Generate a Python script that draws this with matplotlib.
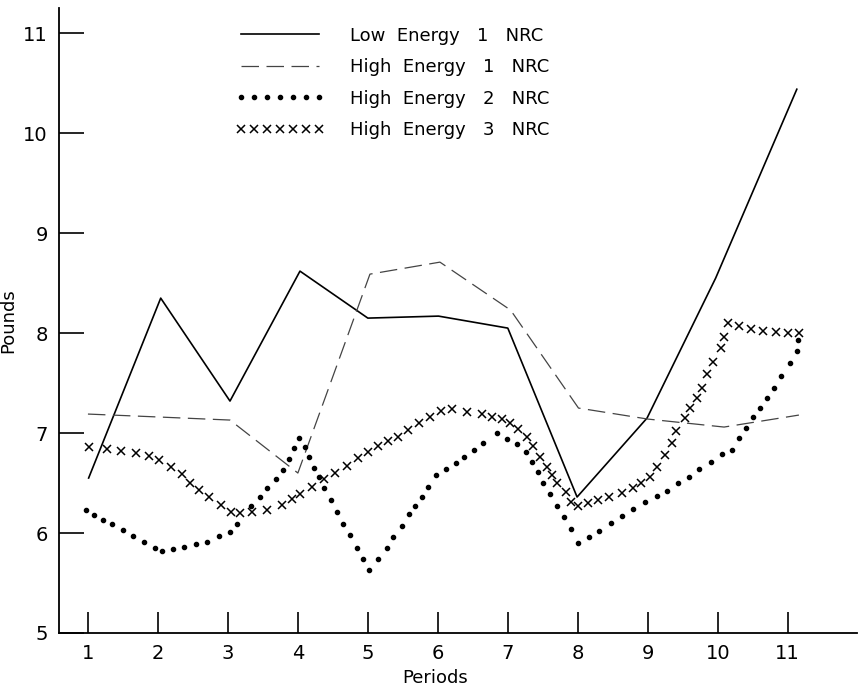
import matplotlib
matplotlib.use("Agg")
import matplotlib.pyplot as plt

plt.rcParams['font.family'] = ['DejaVu Sans']

# Low Energy 1 NRC (heltrukken linje)
low1_x = [1.01, 2.04, 3.03, 4.03, 5.0, 6.01, 7.0, 7.99, 8.99, 9.97, 11.13]
low1_y = [6.55, 8.35, 7.32, 8.62, 8.15, 8.17, 8.05, 6.36, 7.15, 8.55, 10.44]

# High Energy 1 NRC (stiplet linje)
high1_x = [1.0, 2.03, 3.03, 4.0, 5.03, 6.03, 7.04, 8.01, 9.0, 10.09, 11.16]
high1_y = [7.19, 7.16, 7.13, 6.60, 8.59, 8.71, 8.23, 7.25, 7.14, 7.06, 7.18]

# High Energy 2 NRC (prikker)
high2_x = [0.97, 1.09, 1.21, 1.34, 1.5, 1.64, 1.8, 1.96, 2.06, 2.21, 2.37, 2.54,
           2.7, 2.87, 3.03, 3.13, 3.33, 3.46, 3.56, 3.69, 3.79, 3.87, 3.94, 4.01,
           4.1, 4.16, 4.23, 4.3, 4.37, 4.47, 4.56, 4.64, 4.74, 4.84, 4.93, 5.01,
           5.14, 5.27, 5.36, 5.49, 5.59, 5.67, 5.77, 5.86, 5.97, 6.11, 6.26, 6.37,
           6.51, 6.64, 6.84, 6.99, 7.13, 7.26, 7.34, 7.43, 7.5, 7.61, 7.71, 7.8,
           7.9, 8.0, 8.16, 8.31, 8.47, 8.63, 8.79, 8.96, 9.13, 9.27, 9.43, 9.59,
           9.73, 9.9, 10.06, 10.2, 10.3, 10.4, 10.5, 10.6, 10.7, 10.8, 10.91,
           11.03, 11.13, 11.14]
high2_y = [6.23, 6.18, 6.13, 6.09, 6.03, 5.97, 5.91, 5.85, 5.82, 5.84, 5.86, 5.89,
           5.91, 5.97, 6.01, 6.09, 6.27, 6.36, 6.45, 6.54, 6.63, 6.74, 6.85, 6.95,
           6.86, 6.76, 6.65, 6.56, 6.45, 6.33, 6.21, 6.09, 5.98, 5.85, 5.74, 5.63,
           5.74, 5.85, 5.96, 6.07, 6.19, 6.27, 6.36, 6.46, 6.58, 6.64, 6.70, 6.76,
           6.83, 6.90, 7.00, 6.94, 6.89, 6.81, 6.71, 6.61, 6.50, 6.39, 6.27, 6.16,
           6.04, 5.90, 5.96, 6.02, 6.10, 6.17, 6.24, 6.31, 6.37, 6.42, 6.50, 6.56,
           6.64, 6.71, 6.79, 6.83, 6.95, 7.05, 7.16, 7.25, 7.35, 7.45, 7.57,
           7.70, 7.82, 7.93]

# High Energy 3 NRC (kryss)
high3_x = [1.01, 1.27, 1.47, 1.69, 1.87, 2.01, 2.19, 2.34, 2.46, 2.59, 2.73, 2.9,
           3.04, 3.17, 3.34, 3.56, 3.77, 3.91, 4.03, 4.2, 4.37, 4.53, 4.7, 4.86,
           5.0, 5.14, 5.29, 5.43, 5.57, 5.73, 5.89, 6.04, 6.2, 6.41, 6.63, 6.77,
           6.91, 7.03, 7.14, 7.27, 7.36, 7.46, 7.56, 7.63, 7.71, 7.83, 7.91, 8.0,
           8.14, 8.29, 8.44, 8.63, 8.79, 8.91, 9.03, 9.13, 9.24, 9.34, 9.41, 9.53,
           9.6, 9.71, 9.77, 9.84, 9.93, 10.04, 10.09, 10.14, 10.3, 10.47, 10.64,
           10.83, 11.01, 11.16]
high3_y = [6.86, 6.84, 6.82, 6.80, 6.77, 6.73, 6.66, 6.59, 6.50, 6.43, 6.36, 6.28,
           6.21, 6.20, 6.21, 6.23, 6.28, 6.34, 6.39, 6.46, 6.54, 6.60, 6.67, 6.75,
           6.81, 6.87, 6.92, 6.96, 7.03, 7.10, 7.16, 7.22, 7.24, 7.21, 7.19, 7.16,
           7.14, 7.10, 7.04, 6.96, 6.87, 6.76, 6.66, 6.58, 6.50, 6.41, 6.31, 6.27,
           6.30, 6.33, 6.36, 6.40, 6.45, 6.50, 6.56, 6.66, 6.78, 6.90, 7.02, 7.15,
           7.25, 7.35, 7.45, 7.59, 7.71, 7.85, 7.96, 8.10, 8.07, 8.04, 8.02,
           8.01, 8.00, 8.00]

periods = list(range(1, 12))
pounds_ticks = [5, 6, 7, 8, 9, 10, 11]

fig = plt.figure(figsize=(8.62, 6.88), dpi=100)
ax = fig.add_axes([0.0684, 0.080, 0.9258, 0.908])

ax.plot(low1_x, low1_y, color="black", lw=1.2, label="Low  Energy   1   NRC")
ax.plot(high1_x, high1_y, color="#444444", lw=0.9, dashes=(14, 6),
        label="High  Energy   1   NRC")
ax.plot(high2_x, high2_y, linestyle="none", marker="o", ms=3.0, color="black",
        label="High  Energy   2   NRC")
ax.plot(high3_x, high3_y, linestyle="none", marker="x", ms=5.5, mew=1.1,
        color="black", label="High  Energy   3   NRC")

ax.set_xlim(0.586, 11.99)
ax.set_ylim(5, 11.25)
ax.set_xticks(periods)
ax.set_yticks(pounds_ticks)
ax.tick_params(axis="both", direction="in", length=15, width=1.2,
               labelsize=14, pad=8)
ax.tick_params(axis="y", length=18)
for s in ["top", "right"]:
    ax.spines[s].set_visible(False)
for s in ["left", "bottom"]:
    ax.spines[s].set_linewidth(1.3)

ax.set_xlabel("Periods", fontsize=13)
ax.set_ylabel("Pounds", fontsize=13)
ax.xaxis.set_label_coords(0.471, -0.058)
ax.yaxis.set_label_coords(-0.052, 0.5)

ax.legend(loc="upper left", bbox_to_anchor=(0.255, 0.985),
          bbox_transform=fig.transFigure, frameon=False, fontsize=13,
          handlelength=4.9, handletextpad=1.4, labelspacing=0.75,
          numpoints=7)

fig.savefig("out.png", dpi=100)
